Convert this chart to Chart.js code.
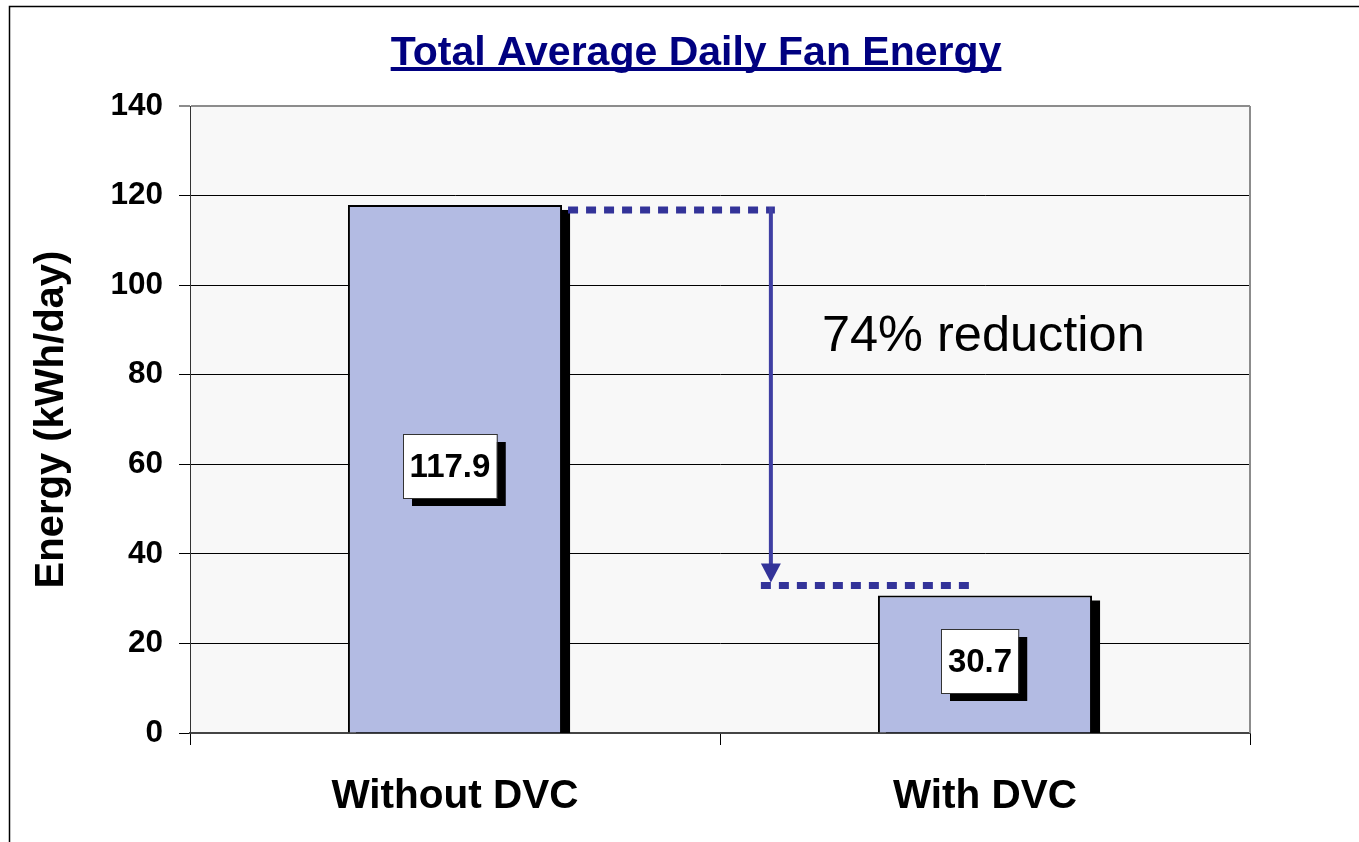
<!DOCTYPE html>
<html>
<head>
<meta charset="utf-8">
<script src="https://cdn.jsdelivr.net/npm/chart.js@4/dist/chart.umd.min.js"></script>
<style>
    html, body { margin: 0; padding: 0; background: #fff; }
    canvas { display: block; }
</style>
</head>
<body>
<canvas id="fanChart" width="1359" height="842"></canvas>
<script>
const CATEGORIES = ['Without DVC', 'With DVC'];
const ENERGY = [117.9, 30.7];
const Y_TICKS = [0, 20, 40, 60, 80, 100, 120, 140];
const TITLE = 'Total Average Daily Fan Energy';
const Y_TITLE = 'Energy (kWh/day)';
const NOTE = '74% reduction';
const NOTE_VALUE = 88.4;      // where the note sits on the y scale
const ARROW_POS = 0.596;      // arrow position on the category scale

const FONT = "'Liberation Sans', Arial, sans-serif";
const BAR_FILL = '#B3BBE3';
const NAVY = '#000080';
const ARROW_BLUE = '#333399';

// frame, plot background, right border, title
const backdropPlugin = {
    id: 'backdrop',
    beforeDraw(chart) {
        const { ctx, chartArea: a } = chart;
        ctx.save();
        ctx.fillStyle = '#F8F8F8';
        ctx.fillRect(a.left, a.top, a.right - a.left, a.bottom - a.top);

        ctx.strokeStyle = '#000';
        ctx.lineWidth = 1.5;
        ctx.strokeRect(9.5, 6.5, chart.width + 20, chart.height + 20);

        ctx.font = `bold 41px ${FONT}`;
        ctx.fillStyle = NAVY;
        ctx.textAlign = 'center';
        ctx.textBaseline = 'alphabetic';
        const cx = 696;
        ctx.fillText(TITLE, cx, 65);
        const w = ctx.measureText(TITLE).width;
        ctx.fillRect(cx - w / 2, 67, w, 4);
        ctx.restore();
    },
    afterDraw(chart) {
        const { ctx, chartArea: a } = chart;
        ctx.save();
        ctx.strokeStyle = '#8C8C8C';
        ctx.lineWidth = 2;
        ctx.beginPath();
        ctx.moveTo(a.right, a.top);
        ctx.lineTo(a.right, a.bottom);
        ctx.stroke();
        ctx.restore();
    }
};

// black drop shadow behind each bar
const shadowPlugin = {
    id: 'barShadow',
    beforeDatasetsDraw(chart) {
        const { ctx, chartArea: a } = chart;
        const bars = chart.getDatasetMeta(0).data;
        ctx.save();
        ctx.beginPath();
        ctx.rect(a.left, a.top, a.right - a.left, a.bottom - a.top);
        ctx.clip();
        ctx.fillStyle = '#000';
        bars.forEach(b => {
            ctx.fillRect(b.x - b.width / 2 + 8, b.y + 5, b.width, b.base - b.y);
        });
        ctx.restore();
    }
};

// value boxes, dotted guides, arrow and note
const notesPlugin = {
    id: 'notes',
    afterDatasetsDraw(chart) {
        const { ctx } = chart;
        const xs = chart.scales.x;
        const ys = chart.scales.y;
        const bars = chart.getDatasetMeta(0).data;

        ctx.save();
        ctx.font = `bold 33px ${FONT}`;
        ctx.textAlign = 'center';
        ctx.textBaseline = 'middle';
        bars.forEach((b, i) => {
            const label = ENERGY[i].toFixed(1);
            const tw = ctx.measureText(label).width;
            const bw = tw + 13, bh = 64;
            const cx = b.x - 5;
            const cy = ys.getPixelForValue(ENERGY[i] / 2) - 3;
            const left = Math.round(cx - bw / 2), top = Math.round(cy - bh / 2);
            ctx.fillStyle = '#000';
            ctx.fillRect(left + 9, top + 8, bw, bh);
            ctx.fillStyle = '#fff';
            ctx.fillRect(left, top, bw, bh);
            ctx.strokeStyle = '#333';
            ctx.lineWidth = 1;
            ctx.strokeRect(left + 0.5, top + 0.5, bw, bh);
            ctx.fillStyle = '#000';
            ctx.fillText(label, cx, cy + 2);
        });

        const ax = xs.getPixelForValue(ARROW_POS);
        const yTop = ys.getPixelForValue(ENERGY[0]) + 5;
        const yBot = ys.getPixelForValue(ENERGY[1]) - 10;

        ctx.strokeStyle = ARROW_BLUE;
        ctx.lineWidth = 7;
        ctx.setLineDash([10, 8]);
        ctx.beginPath();
        ctx.moveTo(bars[0].x + bars[0].width / 2 + 6, yTop);
        ctx.lineTo(ax + 4, yTop);
        ctx.moveTo(ax - 10, yBot);
        ctx.lineTo(bars[1].x - 14, yBot);
        ctx.stroke();
        ctx.setLineDash([]);

        ctx.strokeStyle = '#3F3FA3';
        ctx.lineWidth = 4;
        ctx.beginPath();
        ctx.moveTo(ax, yTop - 3);
        ctx.lineTo(ax, yBot - 18);
        ctx.stroke();
        ctx.fillStyle = ARROW_BLUE;
        ctx.beginPath();
        ctx.moveTo(ax - 10, yBot - 22);
        ctx.lineTo(ax + 10, yBot - 22);
        ctx.lineTo(ax, yBot - 3);
        ctx.closePath();
        ctx.fill();

        ctx.font = `50.5px ${FONT}`;
        ctx.fillStyle = '#000';
        ctx.textAlign = 'left';
        ctx.textBaseline = 'middle';
        ctx.fillText(NOTE, ax + 51, ys.getPixelForValue(NOTE_VALUE));
        ctx.restore();
    }
};

new Chart(document.getElementById('fanChart'), {
    type: 'bar',
    data: {
        labels: CATEGORIES,
        datasets: [{
            data: ENERGY,
            backgroundColor: BAR_FILL,
            borderColor: '#000',
            borderWidth: 2,
            barPercentage: 0.404,
            categoryPercentage: 1
        }]
    },
    options: {
        responsive: false,
        animation: false,
        layout: { padding: { top: 106, right: 109, bottom: 0, left: 0 } },
        plugins: {
            legend: { display: false },
            title: { display: false },
            tooltip: { enabled: false }
        },
        scales: {
            x: {
                offset: true,
                grid: { display: true, drawOnChartArea: false, offset: true, color: '#000', tickLength: 12 },
                border: { color: '#444', width: 2 },
                ticks: { color: '#000', font: { family: FONT, size: 40.5, weight: 'bold' }, padding: 28, maxRotation: 0 },
                afterFit(scale) { scale.height = 109; }
            },
            y: {
                min: 0,
                max: 140,
                afterBuildTicks(scale) { scale.ticks = Y_TICKS.map(v => ({ value: v })); },
                grid: {
                    color: ctx => ctx.tick && ctx.tick.value === 140 ? '#8C8C8C' : '#000',
                    lineWidth: ctx => ctx.tick && ctx.tick.value === 140 ? 2 : 1,
                    tickLength: 11
                },
                border: { color: '#333', width: 1 },
                ticks: { color: '#000', font: { family: FONT, size: 31.5, weight: 'bold' }, padding: 16 },
                title: {
                    display: true,
                    text: Y_TITLE,
                    color: '#000',
                    font: { family: FONT, size: 40, weight: 'bold' },
                    padding: { top: 28, bottom: 0 }
                },
                afterFit(scale) { scale.width = 190; }
            }
        }
    },
    plugins: [backdropPlugin, shadowPlugin, notesPlugin]
});
</script>
</body>
</html>
